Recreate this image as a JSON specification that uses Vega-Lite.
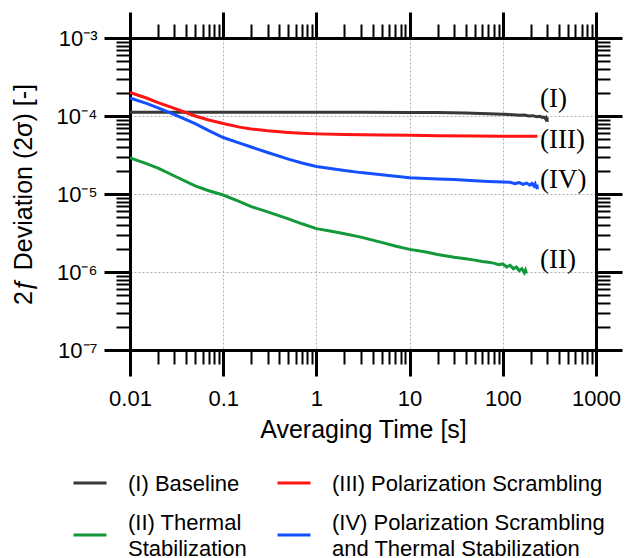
{
  "$schema": "https://vega.github.io/schema/vega-lite/v6.json",
  "width": 466,
  "height": 312,
  "autosize": {"type": "none"},
  "padding": {"left": 130, "top": 38, "right": 29, "bottom": 208},
  "background": "white",
  "resolve": {"axis": {"x": "independent", "y": "independent"}},
  "config": {
    "view": {"stroke": null},
    "font": "Liberation Sans",
    "style": {"guide-label": {"lineHeight": 13}},
    "axis": {
      "labelFont": "Liberation Sans",
      "labelFontSize": 22,
      "labelColor": "#000000",
      "titleFont": "Liberation Sans",
      "titleFontSize": 25,
      "titleFontWeight": "normal",
      "titleColor": "#000000",
      "domainColor": "#000000",
      "domainWidth": 3,
      "tickColor": "#000000",
      "labelFlush": false,
      "labelOverlap": false,
      "labelBound": false
    }
  },
  "datasets": {
    "lines": [
      {"series": "(I) Baseline", "t": 0.01, "dev": 1.12e-4},
      {"series": "(I) Baseline", "t": 0.02, "dev": 1.12e-4},
      {"series": "(I) Baseline", "t": 0.05, "dev": 1.12e-4},
      {"series": "(I) Baseline", "t": 0.1, "dev": 1.12e-4},
      {"series": "(I) Baseline", "t": 0.3, "dev": 1.12e-4},
      {"series": "(I) Baseline", "t": 1, "dev": 1.12e-4},
      {"series": "(I) Baseline", "t": 3, "dev": 1.115e-4},
      {"series": "(I) Baseline", "t": 10, "dev": 1.11e-4},
      {"series": "(I) Baseline", "t": 20, "dev": 1.105e-4},
      {"series": "(I) Baseline", "t": 40, "dev": 1.09e-4},
      {"series": "(I) Baseline", "t": 70, "dev": 1.07e-4},
      {"series": "(I) Baseline", "t": 100, "dev": 1.05e-4},
      {"series": "(I) Baseline", "t": 130, "dev": 1.04e-4},
      {"series": "(I) Baseline", "t": 150, "dev": 1.02e-4},
      {"series": "(I) Baseline", "t": 170, "dev": 1.03e-4},
      {"series": "(I) Baseline", "t": 190, "dev": 1.0e-4},
      {"series": "(I) Baseline", "t": 210, "dev": 1.01e-4},
      {"series": "(I) Baseline", "t": 230, "dev": 0.98e-4},
      {"series": "(I) Baseline", "t": 250, "dev": 0.99e-4},
      {"series": "(I) Baseline", "t": 265, "dev": 0.96e-4},
      {"series": "(I) Baseline", "t": 275, "dev": 0.97e-4},
      {"series": "(I) Baseline", "t": 285, "dev": 0.93e-4},
      {"series": "(I) Baseline", "t": 290, "dev": 0.95e-4},
      {"series": "(I) Baseline", "t": 295, "dev": 0.86e-4},
      {"series": "(I) Baseline", "t": 298, "dev": 0.96e-4},
      {"series": "(I) Baseline", "t": 300, "dev": 0.84e-4},

      {"series": "(III) Polarization Scrambling", "t": 0.01, "dev": 2.0e-4},
      {"series": "(III) Polarization Scrambling", "t": 0.015, "dev": 1.7e-4},
      {"series": "(III) Polarization Scrambling", "t": 0.02, "dev": 1.48e-4},
      {"series": "(III) Polarization Scrambling", "t": 0.03, "dev": 1.25e-4},
      {"series": "(III) Polarization Scrambling", "t": 0.05, "dev": 1.0e-4},
      {"series": "(III) Polarization Scrambling", "t": 0.07, "dev": 8.9e-5},
      {"series": "(III) Polarization Scrambling", "t": 0.1, "dev": 8.0e-5},
      {"series": "(III) Polarization Scrambling", "t": 0.15, "dev": 7.2e-5},
      {"series": "(III) Polarization Scrambling", "t": 0.2, "dev": 6.8e-5},
      {"series": "(III) Polarization Scrambling", "t": 0.3, "dev": 6.45e-5},
      {"series": "(III) Polarization Scrambling", "t": 0.5, "dev": 6.15e-5},
      {"series": "(III) Polarization Scrambling", "t": 0.7, "dev": 6.0e-5},
      {"series": "(III) Polarization Scrambling", "t": 1, "dev": 5.9e-5},
      {"series": "(III) Polarization Scrambling", "t": 2, "dev": 5.8e-5},
      {"series": "(III) Polarization Scrambling", "t": 5, "dev": 5.7e-5},
      {"series": "(III) Polarization Scrambling", "t": 10, "dev": 5.65e-5},
      {"series": "(III) Polarization Scrambling", "t": 20, "dev": 5.6e-5},
      {"series": "(III) Polarization Scrambling", "t": 50, "dev": 5.55e-5},
      {"series": "(III) Polarization Scrambling", "t": 100, "dev": 5.5e-5},
      {"series": "(III) Polarization Scrambling", "t": 150, "dev": 5.5e-5},
      {"series": "(III) Polarization Scrambling", "t": 235, "dev": 5.5e-5},

      {"series": "(II) Thermal Stabilization", "t": 0.01, "dev": 2.9e-5},
      {"series": "(II) Thermal Stabilization", "t": 0.015, "dev": 2.45e-5},
      {"series": "(II) Thermal Stabilization", "t": 0.02, "dev": 2.15e-5},
      {"series": "(II) Thermal Stabilization", "t": 0.03, "dev": 1.7e-5},
      {"series": "(II) Thermal Stabilization", "t": 0.05, "dev": 1.27e-5},
      {"series": "(II) Thermal Stabilization", "t": 0.07, "dev": 1.1e-5},
      {"series": "(II) Thermal Stabilization", "t": 0.1, "dev": 9.7e-6},
      {"series": "(II) Thermal Stabilization", "t": 0.15, "dev": 8.0e-6},
      {"series": "(II) Thermal Stabilization", "t": 0.2, "dev": 6.9e-6},
      {"series": "(II) Thermal Stabilization", "t": 0.3, "dev": 5.9e-6},
      {"series": "(II) Thermal Stabilization", "t": 0.5, "dev": 4.8e-6},
      {"series": "(II) Thermal Stabilization", "t": 0.7, "dev": 4.15e-6},
      {"series": "(II) Thermal Stabilization", "t": 1, "dev": 3.6e-6},
      {"series": "(II) Thermal Stabilization", "t": 1.5, "dev": 3.3e-6},
      {"series": "(II) Thermal Stabilization", "t": 2, "dev": 3.1e-6},
      {"series": "(II) Thermal Stabilization", "t": 3, "dev": 2.8e-6},
      {"series": "(II) Thermal Stabilization", "t": 5, "dev": 2.4e-6},
      {"series": "(II) Thermal Stabilization", "t": 7, "dev": 2.15e-6},
      {"series": "(II) Thermal Stabilization", "t": 10, "dev": 1.95e-6},
      {"series": "(II) Thermal Stabilization", "t": 15, "dev": 1.8e-6},
      {"series": "(II) Thermal Stabilization", "t": 20, "dev": 1.68e-6},
      {"series": "(II) Thermal Stabilization", "t": 30, "dev": 1.55e-6},
      {"series": "(II) Thermal Stabilization", "t": 40, "dev": 1.48e-6},
      {"series": "(II) Thermal Stabilization", "t": 50, "dev": 1.42e-6},
      {"series": "(II) Thermal Stabilization", "t": 60, "dev": 1.36e-6},
      {"series": "(II) Thermal Stabilization", "t": 70, "dev": 1.33e-6},
      {"series": "(II) Thermal Stabilization", "t": 80, "dev": 1.30e-6},
      {"series": "(II) Thermal Stabilization", "t": 90, "dev": 1.24e-6},
      {"series": "(II) Thermal Stabilization", "t": 100, "dev": 1.27e-6},
      {"series": "(II) Thermal Stabilization", "t": 110, "dev": 1.16e-6},
      {"series": "(II) Thermal Stabilization", "t": 120, "dev": 1.22e-6},
      {"series": "(II) Thermal Stabilization", "t": 130, "dev": 1.10e-6},
      {"series": "(II) Thermal Stabilization", "t": 140, "dev": 1.16e-6},
      {"series": "(II) Thermal Stabilization", "t": 150, "dev": 1.04e-6},
      {"series": "(II) Thermal Stabilization", "t": 160, "dev": 1.10e-6},
      {"series": "(II) Thermal Stabilization", "t": 170, "dev": 0.98e-6},
      {"series": "(II) Thermal Stabilization", "t": 175, "dev": 1.06e-6},
      {"series": "(II) Thermal Stabilization", "t": 180, "dev": 0.96e-6},

      {"series": "(IV) Polarization Scrambling and Thermal Stabilization", "t": 0.01, "dev": 1.7e-4},
      {"series": "(IV) Polarization Scrambling and Thermal Stabilization", "t": 0.015, "dev": 1.45e-4},
      {"series": "(IV) Polarization Scrambling and Thermal Stabilization", "t": 0.02, "dev": 1.27e-4},
      {"series": "(IV) Polarization Scrambling and Thermal Stabilization", "t": 0.03, "dev": 1.04e-4},
      {"series": "(IV) Polarization Scrambling and Thermal Stabilization", "t": 0.05, "dev": 8.0e-5},
      {"series": "(IV) Polarization Scrambling and Thermal Stabilization", "t": 0.07, "dev": 6.5e-5},
      {"series": "(IV) Polarization Scrambling and Thermal Stabilization", "t": 0.1, "dev": 5.3e-5},
      {"series": "(IV) Polarization Scrambling and Thermal Stabilization", "t": 0.15, "dev": 4.5e-5},
      {"series": "(IV) Polarization Scrambling and Thermal Stabilization", "t": 0.2, "dev": 4.0e-5},
      {"series": "(IV) Polarization Scrambling and Thermal Stabilization", "t": 0.3, "dev": 3.4e-5},
      {"series": "(IV) Polarization Scrambling and Thermal Stabilization", "t": 0.5, "dev": 2.8e-5},
      {"series": "(IV) Polarization Scrambling and Thermal Stabilization", "t": 0.7, "dev": 2.5e-5},
      {"series": "(IV) Polarization Scrambling and Thermal Stabilization", "t": 1, "dev": 2.25e-5},
      {"series": "(IV) Polarization Scrambling and Thermal Stabilization", "t": 2, "dev": 2.0e-5},
      {"series": "(IV) Polarization Scrambling and Thermal Stabilization", "t": 3, "dev": 1.88e-5},
      {"series": "(IV) Polarization Scrambling and Thermal Stabilization", "t": 5, "dev": 1.77e-5},
      {"series": "(IV) Polarization Scrambling and Thermal Stabilization", "t": 10, "dev": 1.62e-5},
      {"series": "(IV) Polarization Scrambling and Thermal Stabilization", "t": 20, "dev": 1.56e-5},
      {"series": "(IV) Polarization Scrambling and Thermal Stabilization", "t": 30, "dev": 1.53e-5},
      {"series": "(IV) Polarization Scrambling and Thermal Stabilization", "t": 50, "dev": 1.48e-5},
      {"series": "(IV) Polarization Scrambling and Thermal Stabilization", "t": 70, "dev": 1.45e-5},
      {"series": "(IV) Polarization Scrambling and Thermal Stabilization", "t": 100, "dev": 1.43e-5},
      {"series": "(IV) Polarization Scrambling and Thermal Stabilization", "t": 120, "dev": 1.41e-5},
      {"series": "(IV) Polarization Scrambling and Thermal Stabilization", "t": 135, "dev": 1.36e-5},
      {"series": "(IV) Polarization Scrambling and Thermal Stabilization", "t": 150, "dev": 1.40e-5},
      {"series": "(IV) Polarization Scrambling and Thermal Stabilization", "t": 165, "dev": 1.33e-5},
      {"series": "(IV) Polarization Scrambling and Thermal Stabilization", "t": 180, "dev": 1.38e-5},
      {"series": "(IV) Polarization Scrambling and Thermal Stabilization", "t": 195, "dev": 1.30e-5},
      {"series": "(IV) Polarization Scrambling and Thermal Stabilization", "t": 205, "dev": 1.37e-5},
      {"series": "(IV) Polarization Scrambling and Thermal Stabilization", "t": 215, "dev": 1.27e-5},
      {"series": "(IV) Polarization Scrambling and Thermal Stabilization", "t": 222, "dev": 1.35e-5},
      {"series": "(IV) Polarization Scrambling and Thermal Stabilization", "t": 228, "dev": 1.2e-5},
      {"series": "(IV) Polarization Scrambling and Thermal Stabilization", "t": 232, "dev": 1.32e-5},
      {"series": "(IV) Polarization Scrambling and Thermal Stabilization", "t": 235, "dev": 1.15e-5}
    ],
    "labels": [
      {"lab": "(I)", "t": 251, "dev": 1.67e-4},
      {"lab": "(III)", "t": 251, "dev": 4.98e-5},
      {"lab": "(IV)", "t": 251, "dev": 1.53e-5},
      {"lab": "(II)", "t": 251, "dev": 1.44e-6}
    ]
  },
  "layer": [
    {
      "data": {"name": "lines"},
      "mark": {"type": "line", "strokeWidth": 3},
      "encoding": {
        "x": {
          "field": "t", "type": "quantitative",
          "scale": {"type": "log", "domain": [0.01, 1000], "nice": false},
          "axis": {
            "orient": "bottom",
            "title": "Averaging Time [s]",
            "titlePadding": 8,
            "values": [0.01, 0.1, 1, 10, 100, 1000],
            "format": "~g",
            "labelPadding": 12,
            "grid": true,
            "gridColor": "#b0b0b0",
            "gridDash": [2, 2],
            "gridWidth": 1,
            "tickSize": 26,
            "tickWidth": 3
          }
        },
        "y": {
          "field": "dev", "type": "quantitative",
          "scale": {"type": "log", "domain": [1e-7, 1e-3], "nice": false},
          "axis": {
            "orient": "left",
            "title": "2ƒ Deviation (2σ) [-]",
            "titlePadding": 20,
            "values": [1e-7, 1e-6, 1e-5, 1e-4, 1e-3],
            "labelExpr": "'10' + (round(log(datum.value)/LN10) == -3 ? '⁻³' : round(log(datum.value)/LN10) == -4 ? '⁻⁴' : round(log(datum.value)/LN10) == -5 ? '⁻⁵' : round(log(datum.value)/LN10) == -6 ? '⁻⁶' : '⁻⁷')",
            "labelPadding": 7,
            "grid": true,
            "gridColor": "#b0b0b0",
            "gridDash": [2, 2],
            "gridWidth": 1,
            "tickSize": 26,
            "tickWidth": 3
          }
        },
        "color": {
          "field": "series", "type": "nominal",
          "scale": {
            "domain": ["(I) Baseline", "(III) Polarization Scrambling", "(II) Thermal Stabilization", "(IV) Polarization Scrambling and Thermal Stabilization"],
            "range": ["#383838", "#ff1414", "#14993a", "#1450ff"]
          },
          "legend": {
            "orient": "none",
            "direction": "horizontal",
            "legendX": -58,
            "legendY": 427,
            "columns": 2,
            "padding": 0,
            "title": null,
            "symbolType": "stroke",
            "symbolSize": 1089,
            "symbolStrokeWidth": 3,
            "labelFont": "Liberation Sans",
            "labelFontSize": 22,
            "labelColor": "#000000",
            "labelBaseline": "bottom",
            "labelOffset": 20,
            "labelLimit": 400,
            "columnPadding": 24,
            "rowPadding": 17,
            "labelExpr": "datum.label == '(II) Thermal Stabilization' ? ['(II) Thermal', '\u200b', 'Stabilization'] : datum.label == '(IV) Polarization Scrambling and Thermal Stabilization' ? ['(IV) Polarization Scrambling', '\u200b', 'and Thermal Stabilization'] : ['\u200b', datum.label]"
          }
        }
      }
    },
    {
      "data": {"name": "lines"},
      "mark": {"type": "point", "opacity": 0},
      "encoding": {
        "x": {
          "field": "t", "type": "quantitative",
          "scale": {"type": "log", "domain": [0.01, 1000], "nice": false},
          "axis": {
            "orient": "bottom", "title": null, "labels": false, "grid": false,
            "values": [0.02,0.03,0.04,0.05,0.06,0.07,0.08,0.09,0.2,0.3,0.4,0.5,0.6,0.7,0.8,0.9,2,3,4,5,6,7,8,9,20,30,40,50,60,70,80,90,200,300,400,500,600,700,800,900],
            "tickSize": 14, "tickWidth": 2
          }
        },
        "y": {
          "field": "dev", "type": "quantitative",
          "scale": {"type": "log", "domain": [1e-7, 1e-3], "nice": false},
          "axis": {
            "orient": "left", "title": null, "labels": false, "grid": false,
            "values": [2e-7,3e-7,4e-7,5e-7,6e-7,7e-7,8e-7,9e-7,2e-6,3e-6,4e-6,5e-6,6e-6,7e-6,8e-6,9e-6,2e-5,3e-5,4e-5,5e-5,6e-5,7e-5,8e-5,9e-5,2e-4,3e-4,4e-4,5e-4,6e-4,7e-4,8e-4,9e-4],
            "tickSize": 14, "tickWidth": 2
          }
        }
      }
    },
    {
      "data": {"name": "lines"},
      "mark": {"type": "point", "opacity": 0},
      "encoding": {
        "x": {
          "field": "t", "type": "quantitative",
          "scale": {"type": "log", "domain": [0.01, 1000], "nice": false},
          "axis": {
            "orient": "top", "title": null, "labels": false, "grid": false,
            "values": [0.01, 0.1, 1, 10, 100, 1000],
            "tickSize": 26, "tickWidth": 3
          }
        },
        "y": {
          "field": "dev", "type": "quantitative",
          "scale": {"type": "log", "domain": [1e-7, 1e-3], "nice": false},
          "axis": {
            "orient": "right", "title": null, "labels": false, "grid": false,
            "values": [1e-7, 1e-6, 1e-5, 1e-4, 1e-3],
            "tickSize": 26, "tickWidth": 3
          }
        }
      }
    },
    {
      "data": {"name": "lines"},
      "mark": {"type": "point", "opacity": 0},
      "encoding": {
        "x": {
          "field": "t", "type": "quantitative",
          "scale": {"type": "log", "domain": [0.01, 1000], "nice": false},
          "axis": {
            "orient": "top", "title": null, "labels": false, "grid": false,
            "values": [0.02,0.03,0.04,0.05,0.06,0.07,0.08,0.09,0.2,0.3,0.4,0.5,0.6,0.7,0.8,0.9,2,3,4,5,6,7,8,9,20,30,40,50,60,70,80,90,200,300,400,500,600,700,800,900],
            "tickSize": 14, "tickWidth": 2
          }
        },
        "y": {
          "field": "dev", "type": "quantitative",
          "scale": {"type": "log", "domain": [1e-7, 1e-3], "nice": false},
          "axis": {
            "orient": "right", "title": null, "labels": false, "grid": false,
            "values": [2e-7,3e-7,4e-7,5e-7,6e-7,7e-7,8e-7,9e-7,2e-6,3e-6,4e-6,5e-6,6e-6,7e-6,8e-6,9e-6,2e-5,3e-5,4e-5,5e-5,6e-5,7e-5,8e-5,9e-5,2e-4,3e-4,4e-4,5e-4,6e-4,7e-4,8e-4,9e-4],
            "tickSize": 14, "tickWidth": 2
          }
        }
      }
    },
    {
      "data": {"name": "labels"},
      "mark": {"type": "text", "font": "Liberation Serif", "fontSize": 27, "align": "left", "baseline": "middle", "color": "#000000"},
      "encoding": {
        "x": {"field": "t", "type": "quantitative", "axis": null},
        "y": {"field": "dev", "type": "quantitative", "axis": null},
        "text": {"field": "lab", "type": "nominal"}
      }
    }
  ]
}
